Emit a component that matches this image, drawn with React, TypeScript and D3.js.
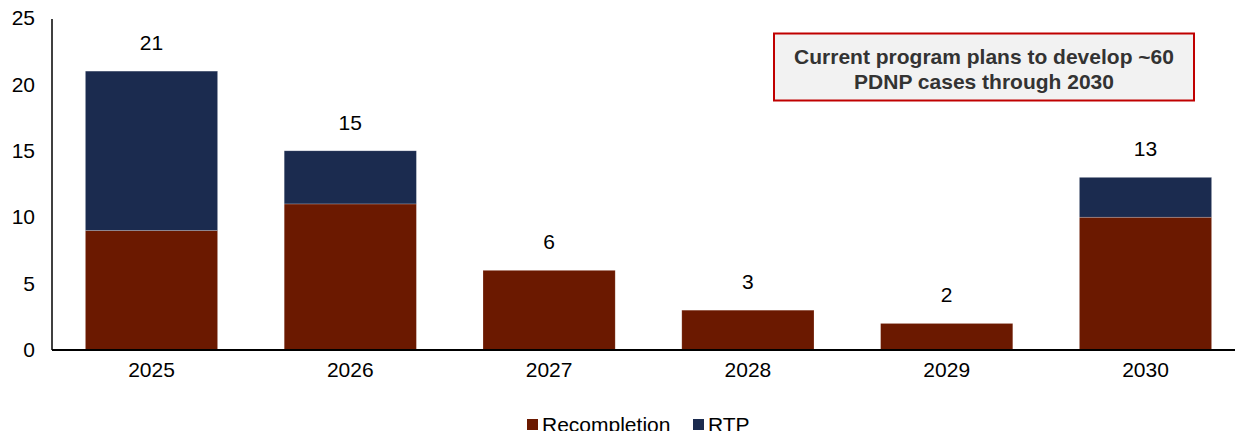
import { useEffect, useRef } from "react"
import * as d3 from "d3"

const years = ["2025", "2026", "2027", "2028", "2029", "2030"]
const recompletion = [9, 11, 6, 3, 2, 10]
const rtp = [12, 4, 0, 0, 0, 3]
const yTicks = [0, 5, 10, 15, 20, 25]
const seriesNames = ["Recompletion", "RTP"]
const calloutLines = ["Current program plans to develop ~60", "PDNP cases through 2030"]

const WIDTH = 1235
const HEIGHT = 431
const COLORS = ["#6b1900", "#1b2b4f"]
const FONT = "'Liberation Sans', Arial, sans-serif"
const FS = "21px"

export default function App() {
  const svgRef = useRef<SVGSVGElement | null>(null)

  useEffect(() => {
    if (!svgRef.current) return
    const svg = d3.select(svgRef.current)
    svg.selectAll("*").remove()

    const x = d3.scaleBand().domain(years).range([52, 1245]).paddingInner(0.335).paddingOuter(0.168)
    const y = d3.scaleLinear().domain([0, 25]).range([350, 18])

    const rows = years.map((yr, i) => ({ year: yr, Recompletion: recompletion[i], RTP: rtp[i] }))
    const stacked = d3.stack<any>().keys(seriesNames)(rows)

    // bars
    svg
      .append("g")
      .selectAll("g")
      .data(stacked)
      .join("g")
      .attr("fill", (_, i) => COLORS[i])
      .selectAll("rect")
      .data((d) => d.filter((p) => p[1] - p[0] > 0))
      .join("rect")
      .attr("x", (d) => x(d.data.year)!)
      .attr("width", x.bandwidth())
      .attr("y", (d) => y(d[1]))
      .attr("height", (d) => y(d[0]) - y(d[1]))
      .attr("stroke", "#ffffff")
      .attr("stroke-opacity", 0.35)
      .attr("stroke-width", 0.6)

    // totals
    svg
      .append("g")
      .selectAll("text")
      .data(rows)
      .join("text")
      .attr("x", (d) => x(d.year)! + x.bandwidth() / 2)
      .attr("y", (d) => y(d.Recompletion + d.RTP) - 21)
      .attr("text-anchor", "middle")
      .style("font-family", FONT)
      .style("font-size", FS)
      .attr("fill", "#000")
      .text((d) => d.Recompletion + d.RTP)

    // y axis
    const yAxis = svg
      .append("g")
      .attr("transform", "translate(52,0)")
      .call(d3.axisLeft(y).tickValues(yTicks).tickSize(0).tickPadding(17))
    yAxis.select(".domain").attr("stroke", "#000").attr("stroke-width", 1.5).attr("d", `M0,${y(25) + 1}V${y(0)}`)
    yAxis.selectAll(".tick text").style("font-family", FONT).style("font-size", FS).attr("fill", "#000")

    // x axis
    const xAxis = svg
      .append("g")
      .attr("transform", `translate(0,${y(0)})`)
      .call(d3.axisBottom(x).tickSize(0).tickPadding(12))
    xAxis.select(".domain").attr("stroke", "#000").attr("stroke-width", 2).attr("d", `M52,0H${WIDTH}`)
    xAxis.selectAll(".tick text").style("font-family", FONT).style("font-size", FS).attr("fill", "#000")

    // callout box
    const box = svg.append("g")
    box
      .append("rect")
      .attr("x", 774)
      .attr("y", 33.5)
      .attr("width", 420)
      .attr("height", 67)
      .attr("fill", "#f2f2f2")
      .attr("stroke", "#c00000")
      .attr("stroke-width", 2)
    box
      .selectAll("text")
      .data(calloutLines)
      .join("text")
      .attr("x", 984)
      .attr("y", (_, i) => 64 + i * 25)
      .attr("text-anchor", "middle")
      .style("font-family", FONT)
      .style("font-size", FS)
      .style("font-weight", "bold")
      .attr("fill", "#333333")
      .text((d) => d)

    // legend
    const legend = svg.append("g")
    const legendX = [527, 693]
    seriesNames.forEach((name, i) => {
      legend
        .append("rect")
        .attr("x", legendX[i])
        .attr("y", 419)
        .attr("width", 11)
        .attr("height", 11)
        .attr("fill", COLORS[i])
      legend
        .append("text")
        .attr("x", legendX[i] + 15)
        .attr("y", 432)
        .style("font-family", FONT)
        .style("font-size", FS)
        .attr("fill", "#000")
        .text(name)
    })
  }, [])

  return (
    <svg
      ref={svgRef}
      width={WIDTH}
      height={HEIGHT}
      style={{ position: "absolute", left: 0, top: 0, background: "#fff" }}
    />
  )
}
